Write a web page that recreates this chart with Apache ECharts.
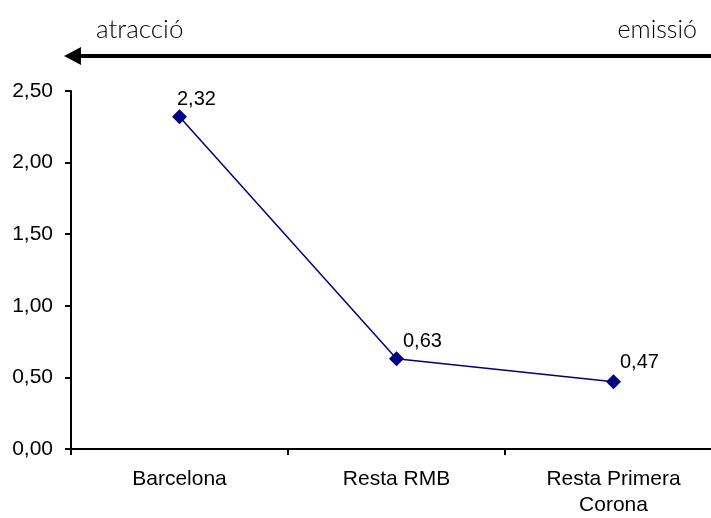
<!DOCTYPE html>
<html>
<head>
<meta charset="utf-8">
<script src="https://cdn.jsdelivr.net/npm/echarts@6/dist/echarts.min.js"></script>
<style>html,body{margin:0;padding:0;background:#fff;overflow:hidden}#c{width:722px;height:518px}</style>
</head>
<body>
<div id="c"></div>
<script>
var categories = ['Barcelona', 'Resta RMB', 'Resta Primera\nCorona'];
var values = [2.32, 0.63, 0.47];
var yTicks = {min: 0, max: 2.5, interval: 0.5};
var leftText = 'atracció';
var rightText = 'emissió';

var labelOffsets = [[-15, -17], [-6, -17], [-6, -19]];
var chart = echarts.init(document.getElementById('c'));
var fmt = function (v) { return v.toFixed(2).replace('.', ','); };
chart.setOption({
  animation: false,
  grid: {left: 71, right: 0, top: 91, height: 358},
  xAxis: {
    type: 'category', data: categories, boundaryGap: true,
    axisLine: {lineStyle: {color: '#000', width: 2}},
    axisTick: {show: true, length: 6, lineStyle: {color: '#000', width: 2}},
    axisLabel: {color: '#000', fontFamily: 'Liberation Sans', fontSize: 21, margin: 17, lineHeight: 26}
  },
  yAxis: {
    type: 'value', min: yTicks.min, max: yTicks.max, interval: yTicks.interval,
    splitLine: {show: false},
    axisLine: {show: true, lineStyle: {color: '#000', width: 2}},
    axisTick: {show: true, length: 6, lineStyle: {color: '#000', width: 2}},
    axisLabel: {color: '#000', fontFamily: 'Liberation Sans', fontSize: 21, margin: 18, formatter: fmt}
  },
  series: [{
    type: 'line',
    data: values.map(function (v, i) {
      return {value: v, label: {offset: labelOffsets[i]}};
    }),
    symbol: 'diamond', symbolSize: 15,
    lineStyle: {color: '#000080', width: 1.5},
    itemStyle: {color: '#000080'},
    label: {show: true, position: 'right', color: '#000', fontFamily: 'Liberation Sans', fontSize: 20,
      formatter: function (p) { return fmt(p.value); }}
  }],
  graphic: [
    {type: 'line', shape: {x1: 76, y1: 56, x2: 722, y2: 56}, style: {stroke: '#000', lineWidth: 4}},
    {type: 'polygon', shape: {points: [[64, 56], [81, 47], [81, 65]]}, style: {fill: '#000'}},
    {type: 'text', left: 96, top: 17, style: {text: leftText, font: '300 26px Lato', fill: '#000'}},
    {type: 'text', right: 25, top: 17, style: {text: rightText, font: '300 25px Lato', fill: '#000'}}
  ]
});
</script>
</body>
</html>
